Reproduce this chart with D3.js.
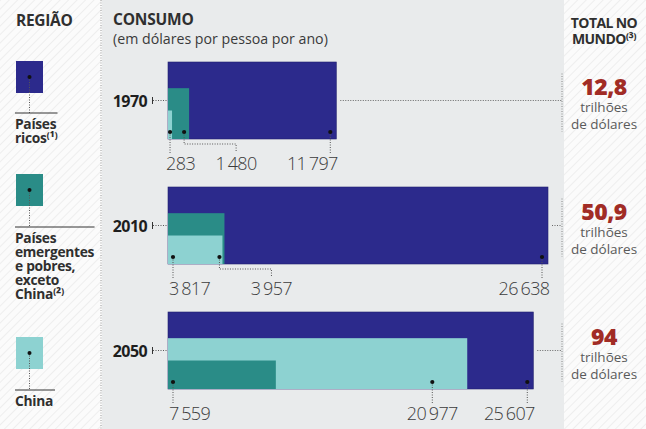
<!DOCTYPE html>
<html>
<head>
<meta charset="utf-8">
<script src="https://cdn.jsdelivr.net/npm/d3@7"></script>
<style>
  html, body { margin: 0; padding: 0; background: #fafafa; }
  svg { display: block; font-family: "Open Sans", "Noto Sans", sans-serif; }
</style>
</head>
<body>
<svg id="chart" width="646" height="429"></svg>
<script>
// Consumption per person per year (US$), by region and year
const years = ["1970", "2010", "2050"];
const ricos = [11797, 26638, 25607];
const emergentes = [1480, 3957, 7559];
const china = [283, 3817, 20977];
// World total (trillion US$)
const totais = ["12,8", "50,9", "94"];

const regioes = [
  { key: "ricos", lines: ["Países", "ricos\u207D\u00B9\u207E"], values: ricos },
  { key: "emergentes", lines: ["Países", "emergentes", "e pobres,", "exceto", "China\u207D\u00B2\u207E"], values: emergentes },
  { key: "china", lines: ["China"], values: china }
];
const cores = { ricos: "#2c2a8c", emergentes: "#2a8c87", china: "#8dd2d1" };

const svg = d3.select("#chart");
const W = 646, H = 429;

// ---- background: hatched side columns, plain grey middle panel
const defs = svg.append("defs");
const pat = defs.append("pattern")
  .attr("id", "hatch").attr("patternUnits", "userSpaceOnUse")
  .attr("width", 6).attr("height", 6)
  .attr("patternTransform", "rotate(45)");
pat.append("rect").attr("width", 6).attr("height", 6).attr("fill", "#fbfbfb");
pat.append("line").attr("x1", 0).attr("y1", 0).attr("x2", 0).attr("y2", 6)
  .attr("stroke", "#e6e6e6").attr("stroke-width", 1.2);

svg.append("rect").attr("width", W).attr("height", H).attr("fill", "url(#hatch)");
svg.append("rect").attr("x", 102).attr("y", 0).attr("width", 462).attr("height", H)
  .attr("fill", "#e9ebec");

// left column separator
svg.append("line").attr("x1", 101).attr("x2", 101).attr("y1", 0).attr("y2", H)
  .attr("stroke", "#9a9a9a").attr("stroke-dasharray", "1,1.5");

// ---- scales
const x = d3.scaleLinear().domain([0, d3.max(ricos)]).range([168, 548]);
const y = d3.scaleBand().domain(years).range([62, 389]).paddingInner(0.384);
const bw = y.bandwidth();
const layerH = [1, 0.66, 0.37]; // back, middle, front bar heights

// thousands groups separated by a small gap
const putNumber = (sel, v) => {
  const s = String(v);
  if (s.length > 3) {
    sel.append("tspan").text(s.slice(0, -3));
    sel.append("tspan").attr("dx", 2.5).text(s.slice(-3));
  } else {
    sel.text(s);
  }
  return sel;
};

// ---- headers
svg.append("text").attr("x", 16).attr("y", 26).text("REGIÃO")
  .attr("font-size", 15.5).attr("font-weight", 700).attr("fill", "#2f2f2f")
  .attr("letter-spacing", -0.3);
svg.append("text").attr("x", 113).attr("y", 25).text("CONSUMO")
  .attr("font-size", 15.5).attr("font-weight", 700).attr("fill", "#2f2f2f")
  .attr("letter-spacing", -0.2);
svg.append("text").attr("x", 113).attr("y", 44).text("(em dólares por pessoa por ano)")
  .attr("font-size", 14.2).attr("fill", "#3a3a3a");
const tt = svg.append("g").attr("text-anchor", "middle")
  .attr("font-size", 14).attr("font-weight", 700).attr("fill", "#2f2f2f")
  .attr("letter-spacing", -0.6);
tt.append("text").attr("x", 604).attr("y", 28).text("TOTAL NO");
tt.append("text").attr("x", 604).attr("y", 44).text("MUNDO\u207D\u00B3\u207E");

// ---- legend
const legTop = [61, 174, 337];
const legRule = [113, 227, 390];
regioes.forEach((r, i) => {
  const g = svg.append("g");
  g.append("rect").attr("x", 16).attr("y", legTop[i]).attr("width", 27).attr("height", 32)
    .attr("fill", cores[r.key]);
  const cx = 29.5, cy = legTop[i] + 16;
  g.append("line").attr("x1", cx).attr("x2", cx).attr("y1", cy).attr("y2", legRule[i])
    .attr("stroke", "#555").attr("stroke-dasharray", "1,1.5");
  g.append("circle").attr("cx", cx).attr("cy", cy).attr("r", 2).attr("fill", "#111");
  const t = g.append("text").attr("font-size", 13.8).attr("font-weight", 700).attr("fill", "#2f2f2f")
    .attr("letter-spacing", -0.3);
  r.lines.forEach((ln, j) => {
    t.append("tspan").attr("x", 15).attr("y", legRule[i] + 16 + j * 14).text(ln);
  });
  const tw = Math.max(40, t.node().getBBox().width);
  g.append("line").attr("x1", 15).attr("x2", 15 + tw).attr("y1", legRule[i]).attr("y2", legRule[i])
    .attr("stroke", "#333").attr("stroke-width", 1);
});

// ---- bars per year
years.forEach((yr, i) => {
  const top = y(yr), bottom = top + bw, mid = top + bw / 2;
  const g = svg.append("g");

  // year label and tick
  g.append("text").attr("x", 147).attr("y", mid + 6).attr("text-anchor", "end")
    .attr("font-size", 16).attr("font-weight", 700).attr("fill", "#1e1e1e")
    .attr("letter-spacing", -0.6).text(yr);
  g.append("line").attr("x1", 152.5).attr("x2", 152.5).attr("y1", mid - 3.5).attr("y2", mid + 3.5)
    .attr("stroke", "#333");
  g.append("line").attr("x1", 153).attr("x2", x(0)).attr("y1", mid).attr("y2", mid)
    .attr("stroke", "#555").attr("stroke-dasharray", "1,1.5");

  // layers sorted by value: largest behind, tallest
  const layers = regioes.map(r => ({ key: r.key, v: r.values[i] }))
    .sort((a, b) => b.v - a.v);
  layers.forEach((d, k) => {
    const h = bw * layerH[k];
    g.append("rect").attr("x", x(0)).attr("y", bottom - h)
      .attr("width", x(d.v) - x(0)).attr("height", h)
      .attr("fill", cores[d.key])
      .attr("stroke", k === 0 ? "#23216e" : "none").attr("stroke-width", 0.6);
  });

  // connector to world total
  const endBack = x(layers[0].v);
  g.append("line").attr("x1", endBack + 4).attr("x2", 562).attr("y1", mid).attr("y2", mid)
    .attr("stroke", "#666").attr("stroke-dasharray", "1,1.5");
  g.append("line").attr("x1", 562).attr("x2", 562).attr("y1", mid - 27).attr("y2", mid + 31)
    .attr("stroke", "#888").attr("stroke-dasharray", "1,1.5");

  // value labels
  const dotY = bottom - 7, labY = bottom + 31;
  const lab = (v, xx, anchor) => putNumber(g.append("text").attr("x", xx).attr("y", labY)
    .attr("text-anchor", anchor).attr("font-size", 18).attr("font-weight", 300)
    .attr("fill", "#3c3c3c").attr("letter-spacing", -0.6), v);
  const leader = pts => g.append("path").attr("d", d3.line()(pts)).attr("fill", "none")
    .attr("stroke", "#555").attr("stroke-dasharray", "1,1.5");
  const dot = (xx) => g.append("circle").attr("cx", xx).attr("cy", dotY).attr("r", 2.1).attr("fill", "#111");

  // back (largest)
  const backDot = endBack - 6;
  const tBack = lab(layers[0].v, endBack + 1.5, "end");
  const backLeft = tBack.node().getBBox().x;
  leader([[backDot, dotY], [backDot, bottom + 15]]);
  dot(backDot);

  // front (smallest)
  const frontDot = Math.min(x(0) + 5, x(layers[2].v) - 2);
  const tFront = lab(layers[2].v, frontDot - 4, "start");
  const fb = tFront.node().getBBox();
  const frontRight = fb.x + fb.width;
  leader([[frontDot, dotY], [frontDot, bottom + 15]]);
  dot(frontDot);

  // middle
  let midDot = x(layers[1].v) - 5;
  const tMid = lab(layers[1].v, midDot, "middle");
  const half = tMid.node().getBBox().width / 2;
  if (midDot - half < frontRight + 6) {
    const lx = midDot + 52;
    tMid.attr("x", lx);
    leader([[midDot, dotY], [midDot, bottom + 5], [lx, bottom + 5], [lx, bottom + 13]]);
  } else {
    if (midDot + half > backLeft - 20) {
      midDot = backLeft - 26 - half;
      tMid.attr("x", midDot);
    }
    leader([[midDot, dotY], [midDot, bottom + 15]]);
  }
  dot(midDot);

  // world total
  const tg = svg.append("g").attr("text-anchor", "middle");
  tg.append("text").attr("x", 604).attr("y", mid - 6).text(totais[i])
    .attr("font-size", 23).attr("font-weight", 800).attr("fill", "#a12c25")
    .attr("letter-spacing", -0.5);
  tg.append("text").attr("x", 604).attr("y", mid + 11).text("trilhões")
    .attr("font-size", 13.5).attr("fill", "#5a5a5a");
  tg.append("text").attr("x", 604).attr("y", mid + 28).text("de dólares")
    .attr("font-size", 13.5).attr("fill", "#5a5a5a");
});
</script>
</body>
</html>
